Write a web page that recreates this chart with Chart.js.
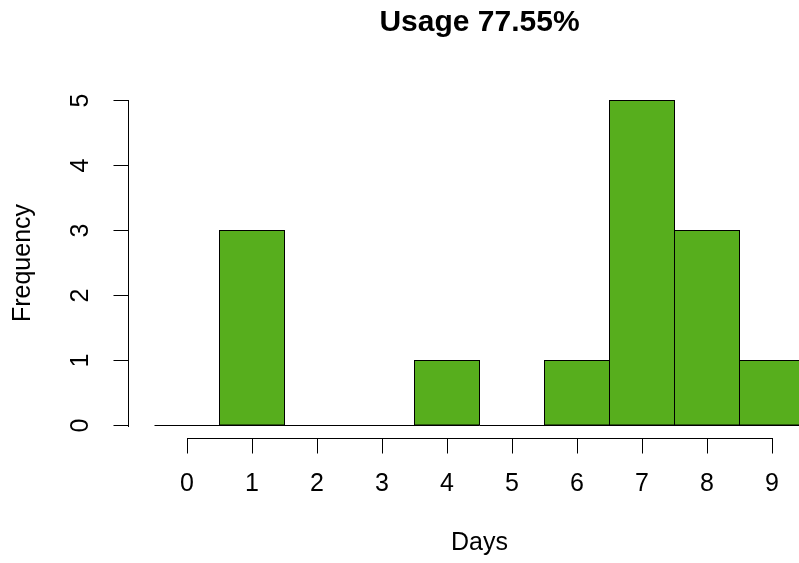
<!DOCTYPE html>
<html>
<head>
<meta charset="utf-8">
<script src="https://cdn.jsdelivr.net/npm/chart.js@4"></script>
<style>
  html, body { margin: 0; padding: 0; background: #fff; }
  /* the R plot region runs past the right edge, so the canvas is wider and clipped */
  #wrap { width: 799px; height: 563px; overflow: hidden; }
  #chart { display: block; }
</style>
</head>
<body>
<div id="wrap"><canvas id="chart" width="897" height="563"></canvas></div>
<script>
// histogram bins (day) and their counts
const days = [0, 1, 2, 3, 4, 5, 6, 7, 8, 9];
const counts = [0, 3, 0, 0, 1, 0, 1, 5, 3, 1];

const xTicks = [0, 1, 2, 3, 4, 5, 6, 7, 8, 9];
const yTicks = [0, 1, 2, 3, 4, 5];

const titleText = "Usage 77.55%";
const xTitle = "Days";
const yTitle = "Frequency";

const FONT = "'Liberation Sans', Arial, Helvetica, sans-serif";
const barColor = "#57ae1d";

// R draws its axes only between the first and last tick
const axisLines = {
  id: "axisLines",
  afterDraw(chart) {
    const { ctx, chartArea, scales: { x, y } } = chart;
    const x0 = Math.round(x.getPixelForValue(xTicks[0]));
    const x1 = Math.round(x.getPixelForValue(xTicks[xTicks.length - 1])) + 1;
    const yBot = Math.round(y.getPixelForValue(yTicks[0])) + 1;
    const yTop = Math.round(y.getPixelForValue(yTicks[yTicks.length - 1]));
    const bx = Math.floor(chartArea.bottom);
    const lx = Math.floor(chartArea.left);
    ctx.save();
    ctx.fillStyle = "#000";
    ctx.fillRect(x0, bx, x1 - x0, 1);
    ctx.fillRect(lx, yTop, 1, yBot - yTop);
    ctx.restore();
  }
};

Chart.defaults.color = "#000";
Chart.defaults.font.family = FONT;

const ctx = document.getElementById("chart").getContext("2d");
new Chart(ctx, {
  type: "bar",
  data: {
    datasets: [
      {
        // bottom edges of all the bins, zero bins included
        type: "line",
        data: [
          { x: days[0] - 0.5, y: 0 },
          { x: days[days.length - 1] + 0.5, y: 0 }
        ],
        borderColor: "#000",
        borderWidth: 1,
        pointRadius: 0,
        order: 0
      },
      {
        data: days.map((d, i) => ({ x: d, y: counts[i] })),
        backgroundColor: barColor,
        borderColor: "#000",
        borderWidth: 1,
        borderSkipped: false,
        inflateAmount: 0.5,
        barPercentage: 1,
        categoryPercentage: 1,
        order: 1
      }
    ]
  },
  options: {
    responsive: false,
    animation: false,
    layout: { padding: { left: 0, right: 66.5, top: 0, bottom: 0 } },
    plugins: {
      legend: { display: false },
      tooltip: { enabled: false },
      title: {
        display: true,
        text: titleText,
        fullSize: false,
        color: "#000",
        font: { size: 30, weight: "bold", family: FONT },
        padding: { top: 5, bottom: 46.5 }
      }
    },
    scales: {
      x: {
        type: "linear",
        min: -0.9,
        max: 9.9,
        offset: false,
        afterBuildTicks: (scale) => { scale.ticks = xTicks.map((v) => ({ value: v })); },
        afterFit: (scale) => { scale.height = 124.5; },
        border: { display: false },
        grid: {
          display: true,
          offset: false,
          drawOnChartArea: false,
          drawTicks: true,
          tickLength: 15,
          color: "#000",
          tickColor: "#000"
        },
        ticks: {
          color: "#000",
          font: { size: 25 },
          padding: 15.5,
          maxRotation: 0,
          autoSkip: false
        },
        title: {
          display: true,
          text: xTitle,
          color: "#000",
          font: { size: 25 },
          padding: { top: 0, bottom: 4.5 }
        }
      },
      y: {
        min: -0.2,
        max: 5.2,
        afterBuildTicks: (scale) => { scale.ticks = yTicks.map((v) => ({ value: v })); },
        afterFit: (scale) => { scale.width = 128.5; },
        border: { display: false },
        grid: {
          display: true,
          drawOnChartArea: false,
          drawTicks: true,
          tickLength: 15,
          color: "#000",
          tickColor: "#000"
        },
        ticks: {
          color: "#000",
          font: { size: 25 },
          padding: 25.5,
          minRotation: 90,
          maxRotation: 90,
          crossAlign: "center",
          autoSkip: false
        },
        title: {
          display: true,
          text: yTitle,
          color: "#000",
          font: { size: 25 },
          padding: { top: 8, bottom: 0 }
        }
      }
    }
  },
  plugins: [axisLines]
});
</script>
</body>
</html>
